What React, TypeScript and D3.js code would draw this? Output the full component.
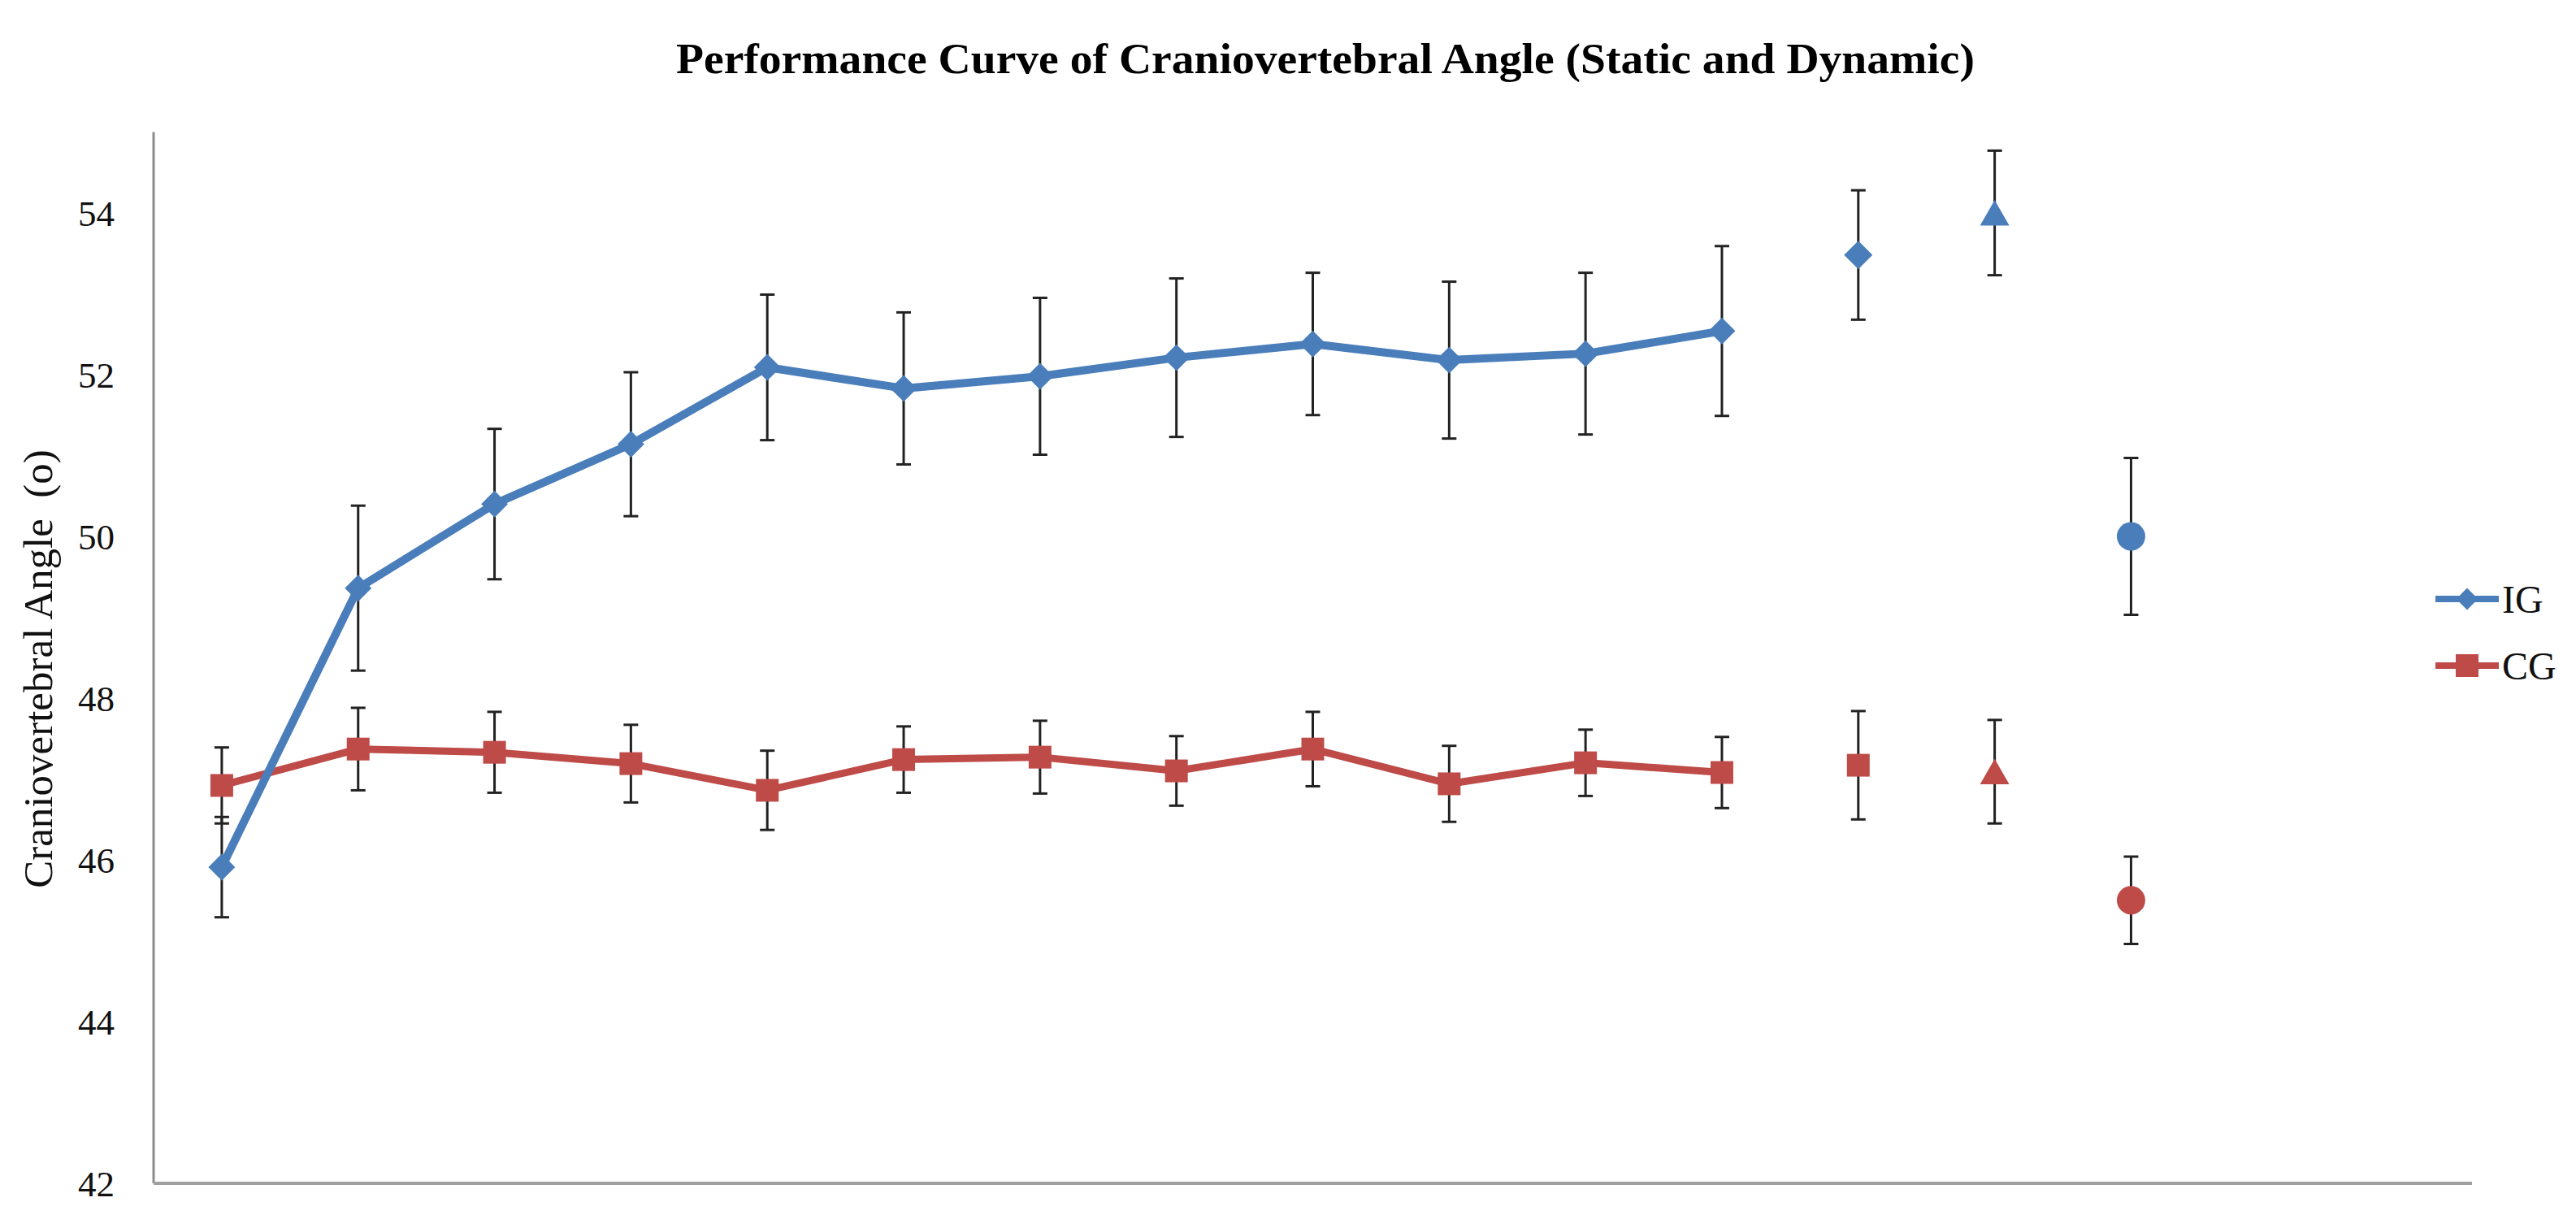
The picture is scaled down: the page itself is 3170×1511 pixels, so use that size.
import { useRef, useEffect } from "react";
import * as d3 from "d3";

// measurement sessions (no labels shown on the x axis)
const sessions = ["1", "2", "3", "4", "5", "6", "7", "8", "9", "10", "11", "12", "13", "14", "15", "16", "17"];
const trendSessions = ["1", "2", "3", "4", "5", "6", "7", "8", "9", "10", "11", "12"];
const extraSessions = ["13", "14", "15"];

// IG - intervention group
const igTrend = [45.91, 49.36, 50.4, 51.14, 52.09, 51.83, 51.98, 52.21, 52.38, 52.18, 52.26, 52.54];
const igTrendErr = [0.62, 1.02, 0.93, 0.89, 0.9, 0.94, 0.97, 0.98, 0.88, 0.97, 1.0, 1.05];
const igExtra = [53.48, 54.0, 50.0];
const igExtraErr = [0.8, 0.77, 0.97];

// CG - control group
const cgTrend = [46.92, 47.37, 47.33, 47.19, 46.86, 47.24, 47.27, 47.1, 47.37, 46.94, 47.2, 47.08];
const cgTrendErr = [0.47, 0.51, 0.5, 0.48, 0.49, 0.41, 0.45, 0.43, 0.46, 0.47, 0.41, 0.44];
const cgExtra = [47.17, 47.09, 45.5];
const cgExtraErr = [0.67, 0.64, 0.54];

const yTicks = [42, 44, 46, 48, 50, 52, 54];

const BLUE = "#4a7ebb";
const RED = "#be4b48";
const SERIF = "'Liberation Serif', 'Times New Roman', serif";

const App = () => {
  const svgRef = useRef<SVGSVGElement>(null);

  const width = 3170;
  const height = 1511;
  const margin = { top: 162.5, right: 128, bottom: 55, left: 189 };

  useEffect(() => {
    const svg: any = d3.select(svgRef.current);
    svg.selectAll("*").remove();

    const x = d3.scaleBand().domain(sessions).range([margin.left, width - margin.right]);
    const cx = (s: string) => (x(s) as number) + x.bandwidth() / 2;
    const y = d3.scaleLinear().domain([42, 55]).range([height - margin.bottom, margin.top]);

    // title
    svg.append("text")
      .attr("x", 1631)
      .attr("y", 90)
      .attr("text-anchor", "middle")
      .attr("font-family", "'Palatino Linotype', 'Book Antiqua', 'Liberation Serif', serif")
      .attr("font-weight", "bold")
      .attr("font-size", 53)
      .attr("textLength", 1598)
      .attr("lengthAdjust", "spacingAndGlyphs")
      .text("Performance Curve of Craniovertebral Angle (Static and Dynamic)");

    // axes
    svg.append("line")
      .attr("x1", margin.left).attr("x2", margin.left)
      .attr("y1", y(55)).attr("y2", y(42))
      .attr("stroke", "#8c8c8c").attr("stroke-width", 3);
    svg.append("line")
      .attr("x1", margin.left).attr("x2", width - margin.right)
      .attr("y1", y(42)).attr("y2", y(42))
      .attr("stroke", "#a0a0a0").attr("stroke-width", 4);

    svg.append("g")
      .selectAll("text")
      .data(yTicks)
      .join("text")
      .attr("x", 141)
      .attr("y", (d: number) => y(d))
      .attr("dy", "0.35em")
      .attr("text-anchor", "end")
      .attr("font-family", SERIF)
      .attr("font-size", 45)
      .attr("fill", "#111")
      .text((d: number) => d);

    svg.append("text")
      .attr("transform", "translate(64, 823) rotate(-90)")
      .attr("text-anchor", "middle")
      .attr("font-family", SERIF)
      .attr("font-size", 51)
      .attr("fill", "#111")
      .style("white-space", "pre")
      .text("Craniovertebral Angle  (o)");

    const line = d3.line<number>()
      .x((_, i) => cx(trendSessions[i]))
      .y((d) => y(d));

    svg.append("path").datum(cgTrend)
      .attr("d", line).attr("fill", "none")
      .attr("stroke", RED).attr("stroke-width", 9).attr("stroke-linejoin", "round");
    svg.append("path").datum(igTrend)
      .attr("d", line).attr("fill", "none")
      .attr("stroke", BLUE).attr("stroke-width", 10).attr("stroke-linejoin", "round");

    // error bars
    const bars = [
      ...trendSessions.map((s, i) => ({ s, v: igTrend[i], e: igTrendErr[i] })),
      ...extraSessions.map((s, i) => ({ s, v: igExtra[i], e: igExtraErr[i] })),
      ...trendSessions.map((s, i) => ({ s, v: cgTrend[i], e: cgTrendErr[i] })),
      ...extraSessions.map((s, i) => ({ s, v: cgExtra[i], e: cgExtraErr[i] })),
    ];
    const eb = svg.append("g").attr("stroke", "#222").attr("stroke-width", 3);
    eb.selectAll(".stem").data(bars).join("line").attr("class", "stem")
      .attr("x1", (d: any) => cx(d.s)).attr("x2", (d: any) => cx(d.s))
      .attr("y1", (d: any) => y(d.v + d.e)).attr("y2", (d: any) => y(d.v - d.e));
    eb.selectAll(".capT").data(bars).join("line").attr("class", "capT")
      .attr("x1", (d: any) => cx(d.s) - 9).attr("x2", (d: any) => cx(d.s) + 9)
      .attr("y1", (d: any) => y(d.v + d.e)).attr("y2", (d: any) => y(d.v + d.e));
    eb.selectAll(".capB").data(bars).join("line").attr("class", "capB")
      .attr("x1", (d: any) => cx(d.s) - 9).attr("x2", (d: any) => cx(d.s) + 9)
      .attr("y1", (d: any) => y(d.v - d.e)).attr("y2", (d: any) => y(d.v - d.e));

    // markers
    const diamond = d3.symbol().type(d3.symbolDiamond2);
    const square = d3.symbol().type(d3.symbolSquare);
    const triangle = d3.symbol().type(d3.symbolTriangle).size(560);
    const circle = d3.symbol().type(d3.symbolCircle).size(960);

    svg.append("g").selectAll("path").data(cgTrend).join("path")
      .attr("transform", (d: number, i: number) => `translate(${cx(trendSessions[i])},${y(d)})`)
      .attr("d", square.size(784)())
      .attr("fill", RED);
    svg.append("g").selectAll("path").data(igTrend).join("path")
      .attr("transform", (d: number, i: number) => `translate(${cx(trendSessions[i])},${y(d)})`)
      .attr("d", diamond.size(690)())
      .attr("fill", BLUE);

    const igShapes = [diamond.size(780)(), triangle(), circle()];
    const cgShapes = [square.size(784)(), triangle(), circle()];
    svg.append("g").selectAll("path").data(igExtra).join("path")
      .attr("transform", (d: number, i: number) => `translate(${cx(extraSessions[i])},${y(d) + (i === 1 ? 5 : 0)})`)
      .attr("d", (_: number, i: number) => igShapes[i])
      .attr("fill", BLUE);
    svg.append("g").selectAll("path").data(cgExtra).join("path")
      .attr("transform", (d: number, i: number) => `translate(${cx(extraSessions[i])},${y(d) + (i === 1 ? 5 : 0)})`)
      .attr("d", (_: number, i: number) => cgShapes[i])
      .attr("fill", RED);

    // legend
    const legend = [
      { name: "IG", color: BLUE, shape: diamond.size(460)(), y: 737 },
      { name: "CG", color: RED, shape: square.size(784)(), y: 819 },
    ];
    const lg = svg.append("g").selectAll("g").data(legend).join("g")
      .attr("transform", (d: any) => `translate(2997,${d.y})`);
    lg.append("line")
      .attr("x1", 0).attr("x2", 78)
      .attr("stroke", (d: any) => d.color).attr("stroke-width", 8);
    lg.append("path")
      .attr("transform", "translate(39,0)")
      .attr("d", (d: any) => d.shape)
      .attr("fill", (d: any) => d.color);
    lg.append("text")
      .attr("x", 82)
      .attr("dy", "0.35em")
      .attr("font-family", SERIF)
      .attr("font-size", 48)
      .attr("fill", "#111")
      .text((d: any) => d.name);
  }, []);

  return (
    <svg
      ref={svgRef}
      width={width}
      height={height}
      style={{ position: "absolute", left: 0, top: 0, background: "#fff" }}
    />
  );
};

export default App;
